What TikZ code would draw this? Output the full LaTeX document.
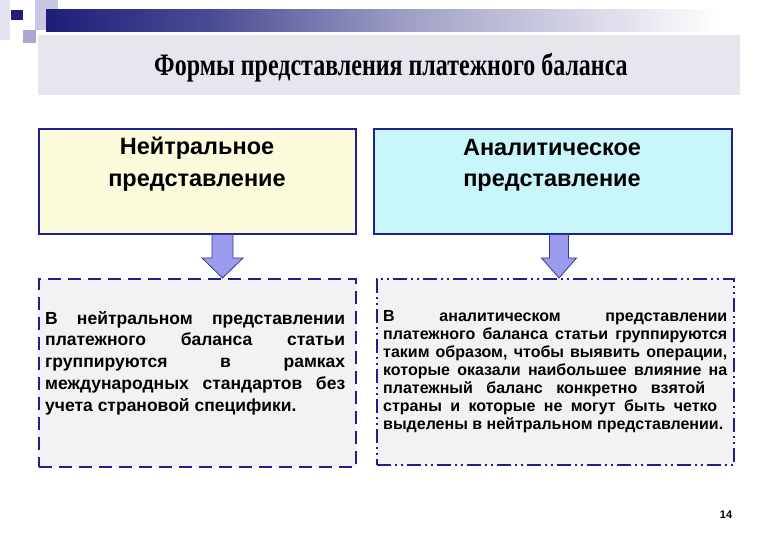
\documentclass[tikz,border=0pt]{standalone}
\usepackage{fontspec}
\setmainfont{Liberation Serif}
\setsansfont{Liberation Sans}
\usetikzlibrary{calc}
\definecolor{navy}{HTML}{1E1E7A}
\definecolor{bordercol}{HTML}{20208C}
\definecolor{titlefill}{HTML}{E6E6EE}
\definecolor{yellowfill}{HTML}{FCFCDC}
\definecolor{cyanfill}{HTML}{C9F6FB}
\definecolor{grayfill}{HTML}{F2F2F5}
\definecolor{arrowfill}{HTML}{9C9CEE}
\definecolor{arrowline}{HTML}{3A3A80}
\definecolor{lav1}{HTML}{C8C8E4}
\definecolor{lav2}{HTML}{A8A8D2}
\tikzset{
  topbox/.style={draw=bordercol, line width=1.6pt, minimum width=317pt, minimum height=105pt, anchor=north west, inner sep=0pt},
  headtext/.style={font=\sffamily\bfseries\fontsize{23.5}{27}\selectfont, anchor=center, inner sep=0pt},
  botbox/.style={draw=bordercol, line width=1.6pt, fill=grayfill, anchor=north west, inner sep=0pt},
  bodytext/.style={font=\sffamily\bfseries, anchor=north west, inner sep=0pt, align=left},
  blockarr/.style={draw=arrowline, line width=0.8pt, fill=arrowfill, line join=miter}
}
\begin{document}
\begin{tikzpicture}[x=1pt,y=-1pt]
\useasboundingbox (0,0) rectangle (780,540);
\fill[white] (0,0) rectangle (780,540);
% decorations
\fill[lav1!50] (0,0) rectangle (10,40);
\fill[lav1] (35,0) rectangle (58,30);
\shade[left color=navy, right color=navy!80!white] (46,10) rectangle (210.5,32);
\shade[left color=navy!80!white, right color=navy!42!white] (210,10) rectangle (410.5,32);
\shade[left color=navy!42!white, right color=white] (410,10) rectangle (720,32);
\fill[lav2] (23,30) rectangle (36,43);
\fill[navy] (11,10) rectangle (23,20);
% title
\node[fill=titlefill, minimum width=702pt, minimum height=60pt, anchor=north west, inner sep=0pt] (title) at (38,35) {};
\node[font=\rmfamily\bfseries\fontsize{24}{28}\selectfont, inner sep=0pt] (titletext) at (391,68) {\scalebox{1}[1.3]{Формы представления платежного баланса}};
% top boxes
\node[topbox, fill=yellowfill] (nl) at (38,128) {};
\node[topbox, fill=cyanfill, minimum width=358pt] (nr) at (373,128) {};
\node[headtext] (nl1) at (197,148) {Нейтральное};
\node[headtext] (nl2) at (197,183) {представление};
\node[headtext] (nr1) at (552,148) {Аналитическое};
\node[headtext] (nr2) at (552,183) {представление};
% bottom boxes
\node[botbox, dash pattern=on 13pt off 7pt, minimum width=317pt, minimum height=188pt] (bl) at (38,278) {};
\node[botbox, dash pattern=on 14pt off 4pt on 2pt off 4pt on 2pt off 4pt, minimum width=357pt, minimum height=186pt] (br) at (376,278) {};
% block arrows
\coordinate (s1) at ($(nl.south west)+(184.5,0)$);
\coordinate (t1) at (s1 |- bl.north);
\draw[blockarr] ($(s1)+(-10.5,0)$) -- ($(t1)+(-10.5,-20)$) -- ($(t1)+(-20.5,-20)$) -- (t1) -- ($(t1)+(20.5,-20)$) -- ($(t1)+(10.5,-20)$) -- ($(s1)+(10.5,0)$) -- cycle;
\coordinate (s2) at ($(nr.south west)+(186,0)$);
\coordinate (t2) at (s2 |- br.north);
\draw[blockarr] ($(s2)+(-9.5,0)$) -- ($(t2)+(-9.5,-20)$) -- ($(t2)+(-17.5,-20)$) -- (t2) -- ($(t2)+(17.5,-20)$) -- ($(t2)+(9.5,-20)$) -- ($(s2)+(9.5,0)$) -- cycle;
% body texts
\node[bodytext, font=\sffamily\bfseries\fontsize{17.5}{21.7}\selectfont] (tl) at (45,311) {%
\makebox[300pt][s]{В нейтральном представлении}\\
\makebox[300pt][s]{платежного баланса статьи}\\
\makebox[300pt][s]{группируются в рамках}\\
\makebox[300pt][s]{международных стандартов без}\\
учета страновой специфики.};
\node[bodytext, font=\sffamily\bfseries\fontsize{16}{18}\selectfont] (tr) at (383,310) {%
\makebox[344pt][s]{В аналитическом представлении}\\
\makebox[344pt][s]{платежного баланса статьи группируются}\\
\makebox[344pt][s]{таким образом, чтобы выявить операции,}\\
\makebox[344pt][s]{которые оказали наибольшее влияние на}\\
\makebox[322pt][s]{платежный баланс конкретно взятой}\\
\makebox[334pt][s]{страны и которые не могут быть четко}\\
выделены в нейтральном представлении.};
% page number
\node[font=\sffamily\bfseries\fontsize{11}{13}\selectfont, inner sep=0pt] (pg) at (726,515) {14};
\end{tikzpicture}
\end{document}
